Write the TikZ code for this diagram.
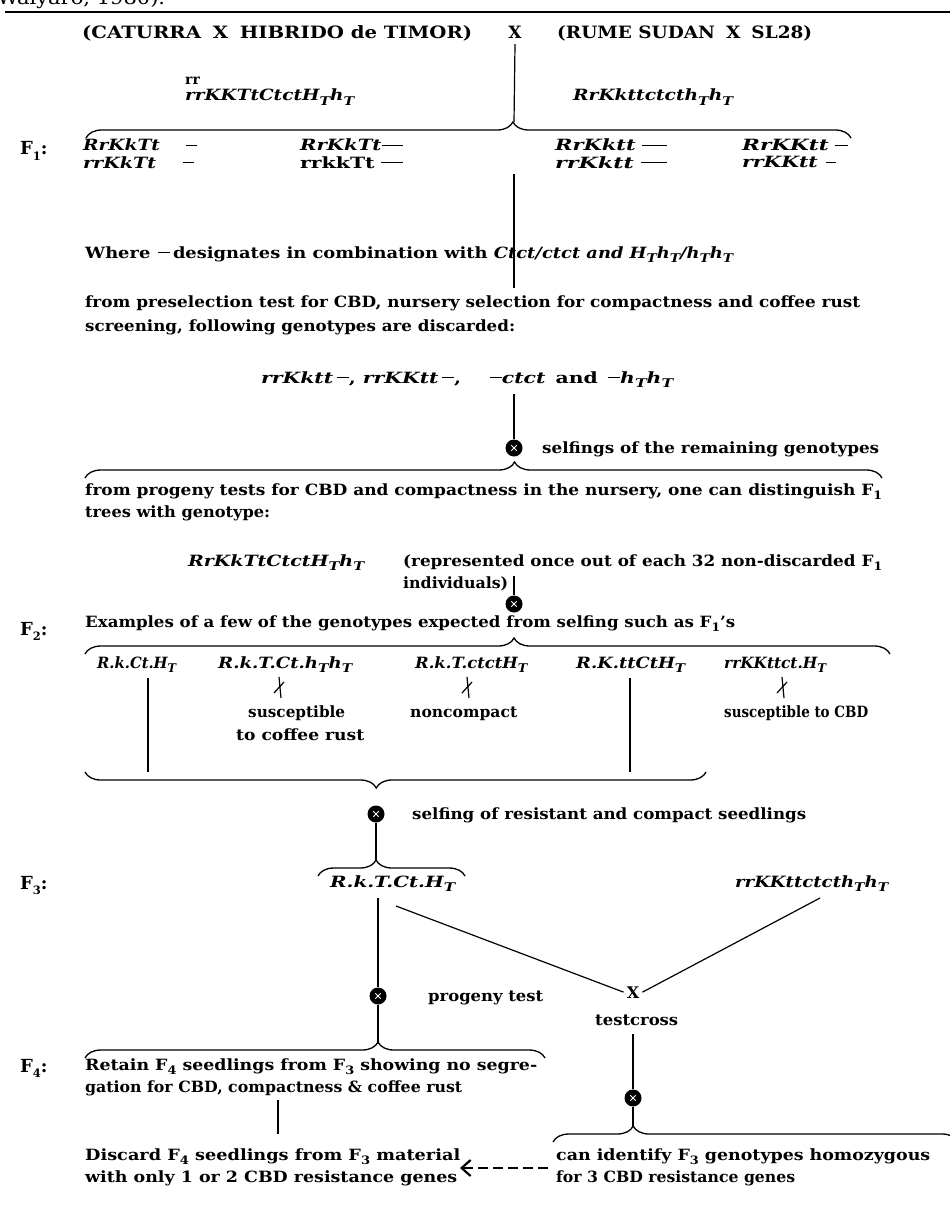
\documentclass[tikz,border=0pt]{standalone}
\usepackage{fontspec}
\usepackage{graphicx}
\setmainfont{DejaVu Serif}
\usetikzlibrary{decorations.pathreplacing,arrows.meta}
\newcommand\fitw[2]{\resizebox{#1pt}{\height}{#2}}
\newcommand\sT{\raisebox{-0.5ex}{\fontsize{12}{12}\selectfont\itshape T}}
\newcommand\sN[1]{\raisebox{-0.6ex}{\fontsize{11.5}{11.5}\selectfont #1}}
\newcommand\mydash[1]{\rule[0.3em]{#1}{1.4pt}}
\begin{document}
\begin{tikzpicture}[x=1pt,y=-1pt,
 t/.style={anchor=base west,inner sep=0pt,font=\bfseries\fontsize{15.5}{17}\selectfont},
 tc/.style={t,anchor=base},
 flab/.style={anchor=base west,inner sep=0pt,font=\bfseries\fontsize{18}{18}\selectfont},
 ln/.style={line width=1.2pt},
 brc/.style={decorate,line width=1.3pt},
 selfsym/.style={circle,fill=black,minimum size=17pt,inner sep=0pt,
   path picture={\draw[white,line width=0.9pt]
      ([shift={(-2.7pt,-2.7pt)}]path picture bounding box.center) -- ([shift={(2.7pt,2.7pt)}]path picture bounding box.center)
      ([shift={(-2.7pt,2.7pt)}]path picture bounding box.center) -- ([shift={(2.7pt,-2.7pt)}]path picture bounding box.center);}}
]
\useasboundingbox (0,0) rectangle (950,1209);
\fill[white] (0,0) rectangle (950,1209);
\clip (0,0) rectangle (950,1209);

% clipped citation and rule
\node[t,font=\fontsize{19}{19}\selectfont] (cite) at (-3,5) {\fitw{168}{Walyaro, 1980).}};
\coordinate (r0) at (5,12); \coordinate (r1) at (950,12);
\draw[line width=1.8pt] (r0) -- (r1);

% parents
\node[t,font=\bfseries\fontsize{17}{17}\selectfont] (par1) at (82,39) {\fitw{390}{(CATURRA\hspace{0.6em}X\hspace{0.6em}HIBRIDO de TIMOR)}};
\node[tc,font=\bfseries\fontsize{17}{17}\selectfont] (cx) at (515,39) {X};
\node[t,font=\bfseries\fontsize{17}{17}\selectfont] (par2) at (557,39) {\fitw{255}{(RUME SUDAN\hspace{0.6em}X\hspace{0.6em}SL28)}};

\node[t,font=\bfseries\fontsize{14}{14}\selectfont] (rr) at (185,85) {rr};
\node[t] (pg1) at (185,101) {\fitw{169}{\itshape rrKKTtCtctH\sT h\sT}};
\node[t] (pg2) at (573,101) {\fitw{160}{\itshape RrKkttctcth\sT h\sT}};

\coordinate (b1) at (514,122);
\draw[ln] ([yshift=-5pt]cx.south) -- (b1);
\draw[brc,decoration={brace,amplitude=16pt,aspect=0.558}] (86,138) -- (851,138);

% F1
\node[flab] (f1) at (20,155) {F\sN{1}:};
\node[t] (a1) at (83,151) {\fitw{114}{{\itshape RrKkTt}\hspace{1.4em}\mydash{0.6em}}};
\node[t] (a2) at (300,151) {\fitw{103}{{\itshape RrKkTt}\mydash{1.1em}}};
\node[t] (a3) at (555,151) {\fitw{112}{{\itshape RrKktt}\hspace{0.3em}\mydash{1.2em}}};
\node[t] (a4) at (742,151) {\fitw{106}{{\itshape RrKKtt}\hspace{0.3em}\mydash{0.6em}}};
\node[t] (c1) at (83,168) {\fitw{111}{{\itshape rrKkTt}\hspace{1.4em}\mydash{0.6em}}};
\node[t] (c2) at (300,168) {\fitw{103}{rrkkTt\hspace{0.3em}\mydash{1.1em}}};
\node[t] (c3) at (555,168) {\fitw{112}{{\itshape rrKktt}\hspace{0.3em}\mydash{1.2em}}};
\node[t] (c4) at (742,168) {\fitw{94}{{\itshape rrKKtt}\hspace{0.4em}\mydash{0.5em}}};

\coordinate (v1a) at (514,174); \coordinate (v1b) at (514,288);
\draw[ln] (v1a) -- (v1b);

\node[t] (where) at (85,258) {\fitw{648}{Where\hspace{0.4em}\mydash{0.7em}\,designates in combination with {\itshape Ctct/ctct and H\sT h\sT/h\sT h\sT}}};
\node[t] (pre1) at (85,307) {\fitw{775}{from preselection test for CBD, nursery selection for compactness and coffee rust}};
\node[t] (pre2) at (85,331) {\fitw{430}{screening, following genotypes are discarded:}};
\node[t] (disc) at (261,383) {\fitw{412}{{\itshape rrKktt}\,\mydash{0.6em}, {\itshape rrKKtt}\,\mydash{0.6em},\hspace{1.4em}\mydash{0.6em}{\itshape ctct}\hspace{0.5em}and\hspace{0.5em}\mydash{0.6em}{\itshape h\sT h\sT}}};

\coordinate (v2a) at (514,394);
\node[selfsym] (s1) at (514,448) {};
\draw[ln] (v2a) -- (s1.north);
\node[t] (selft) at (542,453) {\fitw{337}{selfings of the remaining genotypes}};

\draw[brc,decoration={brace,amplitude=16pt,aspect=0.539}] (85,478) -- (882,478);
\node[t] (prog1) at (85,495) {\fitw{797}{from progeny tests for CBD and compactness in the nursery, one can distinguish F\sN{1}}};
\node[t] (prog2) at (85,517) {\fitw{185}{trees with genotype:}};
\node[t] (f1g) at (188,566) {\fitw{176}{\itshape RrKkTtCtctH\sT h\sT}};
\node[t] (rep1) at (403,566) {\fitw{479}{(represented once out of each 32 non-discarded F\sN{1}}};
\node[t] (rep2) at (403,588) {\fitw{105}{individuals)}};

\coordinate (v3a) at (514,576);
\node[selfsym] (s2) at (514,604) {};
\draw[ln] (v3a) -- (s2.north);

% F2
\node[flab] (f2) at (20,635) {F\sN{2}:};
\node[t] (ex) at (85,627) {\fitw{650}{Examples of a few of the genotypes expected from selfing such as F\sN{1}'s}};
\draw[brc,decoration={brace,amplitude=16pt,aspect=0.533}] (85,654) -- (890,654);

\node[t] (g1) at (97,668) {\fitw{79}{\itshape R.k.Ct.H\sT}};
\node[t] (g2) at (218,668) {\fitw{134}{\itshape R.k.T.Ct.h\sT h\sT}};
\node[t] (g3) at (415,668) {\fitw{112}{\itshape R.k.T.ctctH\sT}};
\node[t] (g4) at (576,668) {\fitw{109}{\itshape R.K.ttCtH\sT}};
\node[t] (g5) at (724,668) {\fitw{102}{\itshape rrKKttct.H\sT}};

\node[t] (sus1) at (248,717) {\fitw{97}{susceptible}};
\node[t] (sus2) at (236,740) {\fitw{128}{to coffee rust}};
\node[t] (nonc) at (410,717) {\fitw{107}{noncompact}};
\node[t] (sus3) at (724,717) {\fitw{144}{susceptible to CBD}};

% struck connectors
\foreach \xx in {279,467,782}{
  \draw[ln] (\xx,677) -- (\xx+2,698);
  \draw[ln] (\xx-5,693) -- (\xx+5,682);
}
\coordinate (l1a) at (148,678); \coordinate (l1b) at (148,772);
\coordinate (l2a) at (630,678); \coordinate (l2b) at (630,772);
\draw[ln] (l1a) -- (l1b);
\draw[ln] (l2a) -- (l2b);

\draw[brc,decoration={brace,amplitude=16pt,aspect=0.531}] (706,772) -- (85,772);

\node[selfsym] (s3) at (376,814) {};
\node[t] (selft2) at (412,819) {\fitw{394}{selfing of resistant and compact seedlings}};
\coordinate (b5) at (376,860);
\draw[ln] (s3.south) -- (b5);
\draw[brc,decoration={brace,amplitude=16pt,aspect=0.395}] (318,876) -- (465,876);

% F3
\node[flab] (f3) at (20,889) {F\sN{3}:};
\node[t] (f3a) at (330,887) {\fitw{125}{\itshape R.k.T.Ct.H\sT}};
\node[t] (f3b) at (735,887) {\fitw{153}{\itshape rrKKttctcth\sT h\sT}};

\coordinate (v4a) at (378,898);
\node[selfsym] (s4) at (378,996) {};
\draw[ln] (v4a) -- (s4.north);
\node[t] (ptest) at (428,1001) {\fitw{115}{progeny test}};

\node[tc,font=\bfseries\fontsize{16}{17}\selectfont] (x2) at (633,998) {X};
\coordinate (d1) at (396,906);
\coordinate (d2) at (820,898);
\draw[ln] (d1) -- ([xshift=-3pt]x2.west);
\draw[ln] ([xshift=3pt]x2.east) -- (d2);
\node[t] (tc) at (595,1025) {\fitw{83}{testcross}};

\coordinate (v5a) at (633,1034);
\node[selfsym] (s5) at (633,1098) {};
\draw[ln] (v5a) -- (s5.north);
\coordinate (b7) at (633,1126);
\draw[ln] (s5.south) -- (b7);
\draw[brc,decoration={brace,amplitude=16pt,aspect=0.198}] (553,1142) -- (958,1142);
\node[t] (can1) at (556,1160) {\fitw{374}{can identify F\sN{3} genotypes homozygous}};
\node[t] (can2) at (556,1182) {\fitw{239}{for 3 CBD resistance genes}};

% F4
\coordinate (b6) at (378,1044);
\draw[ln] (s4.south) -- (b6);
\draw[brc,decoration={brace,amplitude=16pt,aspect=0.637}] (85,1058) -- (545,1058);
\node[flab] (f4) at (20,1072) {F\sN{4}:};
\node[t] (ret1) at (85,1070) {\fitw{452}{Retain F\sN{4} seedlings from F\sN{3} showing no segre-}};
\node[t] (ret2) at (85,1092) {\fitw{377}{gation for CBD, compactness \& coffee rust}};
\coordinate (v6a) at (278,1100); \coordinate (v6b) at (278,1134);
\draw[ln] (v6a) -- (v6b);
\node[t] (dis1) at (85,1160) {\fitw{375}{Discard F\sN{4} seedlings from F\sN{3} material}};
\node[t] (dis2) at (85,1182) {\fitw{372}{with only 1 or 2 CBD resistance genes}};

\coordinate (ar1) at (548,1168);
\coordinate (ar2) at (460,1168);
\draw[ln,dash pattern=on 10pt off 5pt,-{Straight Barb[length=9pt,width=16pt,line width=2.2pt]}] (ar1) -- (ar2);
\end{tikzpicture}
\end{document}
